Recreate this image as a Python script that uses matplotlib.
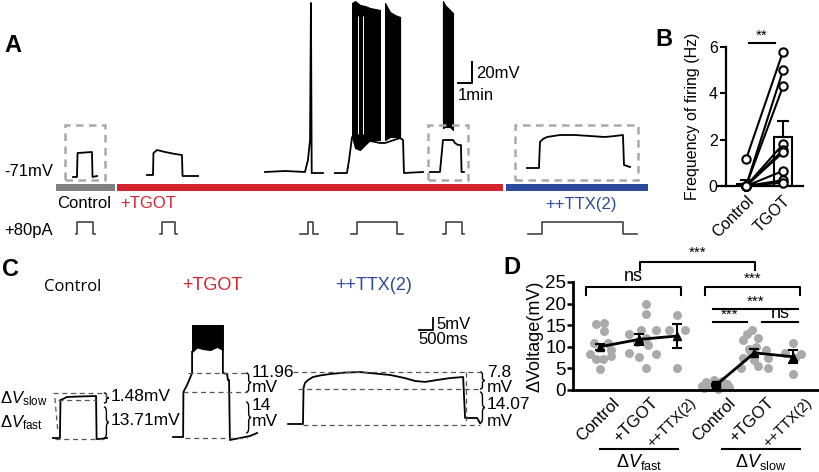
import numpy as np
import matplotlib
matplotlib.use("Agg")
import matplotlib.pyplot as plt
from matplotlib.path import Path
from matplotlib.patches import PathPatch, Rectangle

plt.rcParams['font.family'] = ['Liberation Sans', 'DejaVu Sans']
plt.rcParams['mathtext.fontset'] = 'custom'
plt.rcParams['mathtext.rm'] = 'Liberation Sans'
plt.rcParams['mathtext.it'] = 'Liberation Sans:italic'

RED = '#d2232f'
BLUE = '#2d4b9c'
GRAY = '#808080'
DOT = '#aaaaaa'

# ---------------- A: long recording (t in min, Vm in mV) ----------------
ctrl_t = [1.87, 2.13, 2.17, 2.67, 3.13, 3.17, 3.47]
ctrl_v = [-74.2, -74.2, -55.0, -54.6, -54.2, -74.2, -73.4]
tgot1_t = [6.8, 7.2, 7.23, 7.47, 8.0, 8.67, 9.13, 9.17, 10.2]
tgot1_v = [-72.6, -72.6, -55.0, -52.6, -54.2, -55.8, -56.6, -73.4, -73.4]
spike_t = [14.67, 16.0, 17.33, 17.53, 17.67, 17.73, 17.78, 18.53]
spike_v = [-70.2, -69.4, -70.2, -60.6, -44.6, 65.0, -71.0, -71.0]
burst_t = [19.33, 20.13, 20.27, 20.47, 22.33, 22.67, 23.67, 23.87, 23.93, 25.2]
burst_v = [-71.0, -71.0, -60.6, -42.2, -47.0, -47.0, -43.0, -44.6, -71.0, -70.2]
late_t = [25.67, 26.33, 26.47, 26.53, 27.2, 27.33, 27.53, 27.73, 27.77, 27.93]
late_v = [-70.2, -70.2, -52.6, -44.6, -44.6, -47.0, -48.6, -48.6, -70.2, -70.2]
ttx_t = [32.13, 32.93, 33.0, 33.2, 33.47, 34.33, 35.33, 36.33, 37.33, 38.0, 38.53, 38.6, 39.0]
ttx_v = [-67.0, -67.0, -46.2, -43.8, -42.2, -40.6, -40.6, -41.4, -42.2, -41.4, -40.6, -64.6, -66.2]

# firing envelopes (time, lower, upper)
env1_t = [20.47, 20.67, 21.0, 21.33, 21.67, 22.0, 22.33]
env1_lo = [-42.2, -51.0, -52.6, -48.6, -44.6, -44.6, -44.6]
env1_hi = [65.0, 66.6, 63.4, 62.6, 61.0, 60.2, 59.4]
env2_t = [22.67, 23.0, 23.33, 23.67]
env2_lo = [-44.6, -42.2, -42.2, -42.2]
env2_hi = [65.0, 57.8, 55.4, 53.8]
env3_t = [26.53, 26.67, 27.0, 27.2]
env3_lo = [-35.0, -34.2, -34.2, -36.6]
env3_hi = [66.6, 63.4, 59.4, 57.0]
gap_t = [20.87, 21.2]

# +80 pA current steps: lead-in, on, off, tail end (min)
step_start = [2.05, 7.67, 17.0, 20.4, 26.53, 32.2]
step_on = [2.15, 7.8, 17.53, 20.8, 26.73, 33.13]
step_off = [3.22, 8.67, 17.87, 23.47, 27.8, 38.53]
step_end = [3.33, 8.82, 18.2, 23.87, 27.93, 39.47]
step_amp = 80

# drug application periods (min)
period_start = [0.73, 4.8, 30.73]
period_end = [4.67, 30.53, 40.2]
period_col = [GRAY, RED, BLUE]

# ---------------- B: firing frequency (Hz) ----------------
freq_ctrl = [1.15, 0, 0, 0, 0, 0, 0, 0, 0]
freq_tgot = [5.8, 5.0, 4.3, 1.8, 1.55, 1.45, 0.65, 0.25, 0.15]
freq_mean = [0.08, 2.1]
freq_sem = [0.17, 0.7]

# ---------------- C: single sweeps (t in s, V in mV) ----------------
c_ctrl_t = [1.89, 2.11, 2.14, 2.16, 2.25, 2.39, 2.86, 3.43, 3.45, 3.57, 3.82]
c_ctrl_v = [0.83, 0.83, 0.83, 16.67, 17.08, 17.92, 18.13, 18.33, 0.42, 0.42, 0.83]
c_tgot_pre_t = [6.18, 6.54, 6.55, 6.68, 6.86, 6.86]
c_tgot_pre_v = [1.25, 1.25, 20.0, 22.9, 27.9, 36.7]
c_tgot_post_t = [7.96, 7.96, 8.11, 8.14, 8.18, 8.21, 8.57, 8.93, 9.18]
c_tgot_post_v = [37.5, 27.9, 27.5, 25.0, 25.0, 0.0, 0.83, 1.67, 2.92]
c_env_t = [6.86, 7.04, 7.25, 7.5, 7.75, 7.96]
c_env_lo = [36.7, 38.6, 37.9, 37.5, 38.8, 37.5]
c_env_hi = [47.9, 47.9, 47.9, 47.9, 47.9, 47.9]
c_ttx_t = [10.29, 10.82, 10.84, 10.89, 11.0, 11.18, 11.43, 11.79, 12.32, 12.86, 13.39, 13.93,
           14.46, 14.82, 15.18, 15.61, 16.07, 16.54, 16.61, 17.04, 17.14]
c_ttx_v = [6.67, 6.67, 21.67, 23.75, 25.0, 26.25, 26.88, 27.5, 28.1, 28.3, 27.7, 27.1,
           25.8, 24.6, 24.2, 25.0, 25.8, 26.25, 9.17, 9.17, 7.08]

# ---------------- D: delta voltage (mV) ----------------
groups = ['Control', '+TGOT', '++TTX(2)', 'Control', '+TGOT', '++TTX(2)']
xpos = [0, 1, 2, 3, 4, 5]
fast_ctrl = [15.3, 15.6, 13.7, 10.9, 10.9, 8.3, 9.3, 7.1, 7.1, 7.9, 4.8]
fast_ctrl_dx = [-0.1, 0.11, 0.11, -0.15, 0.2, -0.26, 0.28, -0.1, 0.07, 0.28, 0.0]
fast_tgot = [20.0, 17.6, 13.0, 13.8, 14.0, 12.0, 11.2, 8.5, 7.6, 8.4, 5.0, 10.5]
fast_tgot_dx = [0.2, 0.2, -0.25, 0.05, 0.45, 0.2, -0.05, -0.25, 0.0, 0.45, 0.2, 0.25]
fast_ttx = [17.3, 14.0, 13.8, 5.0]
fast_ttx_dx = [0.0, -0.2, 0.2, 0.0]
slow_ctrl = [1.9, 2.3, 2.1, 1.4, 0.9, 0.6, 0.6, 0.6, 1.2, 0.4, 1.0, 0.3]
slow_ctrl_dx = [-0.25, -0.05, 0.15, 0.3, -0.35, -0.15, 0.15, 0.35, -0.05, -0.3, 0.25, 0.05]
slow_tgot = [13.8, 12.9, 12.0, 11.6, 10.0, 9.5, 9.3, 8.5, 7.3, 6.9, 7.3, 5.0, 5.5, 5.2]
slow_tgot_dx = [-0.05, -0.2, 0.1, -0.3, 0.05, -0.15, 0.3, -0.1, -0.3, 0.0, 0.35, -0.35, 0.1, 0.35]
slow_ttx = [10.8, 8.6, 8.3, 7.5, 3.6]
slow_ttx_dx = [0.0, -0.2, 0.2, 0.05, 0.0]
fast_mean = [10.0, 11.7, 12.5]
fast_sem = [0.75, 1.3, 2.7]
slow_mean = [1.1, 8.6, 7.7]
slow_sem = [0.2, 0.8, 1.5]

W, H = 820, 472
fig = plt.figure(figsize=(W / 100, H / 100), dpi=100)


def px_axes(x0, y0, x1, y1):
    return fig.add_axes([x0 / W, 1 - y1 / H, (x1 - x0) / W, (y1 - y0) / H])


def ftext(x, y, s, **kw):
    fig.text(x / W, 1 - y / H, s, **kw)


def brace(ax, x, y0, y1, w, lw=1.0):
    # curly brace opening to the left, tip pointing right
    m = (y0 + y1) / 2
    r = min(abs(y1 - y0) * 0.15, 2.0)
    verts = [(x, y1), (x + w / 2, y1), (x + w / 2, y1 - r),
             (x + w / 2, m + r), (x + w / 2, m), (x + w, m),
             (x + w / 2, m), (x + w / 2, m - r),
             (x + w / 2, y0 + r), (x + w / 2, y0), (x, y0)]
    codes = [Path.MOVETO, Path.CURVE3, Path.CURVE3, Path.LINETO, Path.CURVE3, Path.CURVE3,
             Path.CURVE3, Path.CURVE3, Path.LINETO, Path.CURVE3, Path.CURVE3]
    ax.add_patch(PathPatch(Path(verts, codes), fill=False, lw=lw, ec='k', clip_on=False))


# ======== A ========
axA = px_axes(0, 0, 660, 245)
axA.set_xlim(-3, 41)
axA.set_ylim(-128.6, 67.4)
axA.axis('off')
for t, v in [(ctrl_t, ctrl_v), (tgot1_t, tgot1_v), (spike_t, spike_v),
             (burst_t, burst_v), (late_t, late_v), (ttx_t, ttx_v)]:
    axA.plot(t, v, color='k', lw=1.3)
for t, lo, hi in [(env1_t, env1_lo, env1_hi), (env2_t, env2_lo, env2_hi), (env3_t, env3_lo, env3_hi)]:
    axA.fill_between(t, lo, hi, color='k', lw=0.8)
axA.vlines(gap_t, -40, 55, color='white', lw=0.7)

for t0, t1 in [(1.33, 4.0), (25.53, 28.2), (31.33, 39.53)]:
    axA.add_patch(Rectangle((t0, -76.6), t1 - t0, 44.0, fill=False, ec='#a9a9a9',
                            lw=1.8, ls=(0, (3, 2.2))))
axA.barh(-82.6, np.subtract(period_end, period_start), left=period_start, height=5.6,
         color=period_col)
axA.plot([27.53, 28.47, 28.47], [1.0, 1.0, 17.8], color='k', lw=1.4)

axI = px_axes(0, 212, 660, 242)
axI.set_xlim(-3, 41)
axI.set_ylim(-52, 143)
axI.axis('off')
for s, a, b, e in zip(step_start, step_on, step_off, step_end):
    axI.plot([s, a, a, b, b, e], [0, 0, step_amp, step_amp, 0, 0], color='#444444', lw=1.2)

ftext(4, 45, 'A', fontsize=17, fontweight='bold', va='center')
ftext(4, 172, '-71mV', fontsize=12, va='center')
ftext(4, 230, '+80pA', fontsize=12, va='center')
ftext(84, 204, 'Control', fontsize=12, va='center', ha='center')
ftext(120, 204, '+TGOT', fontsize=12, va='center', color=RED)
ftext(581, 204, '++TTX(2)', fontsize=12, va='center', ha='center', color=BLUE)
ftext(476, 73, '20mV', fontsize=12, va='center')
ftext(458, 96, '1min', fontsize=12, va='center')

# ======== B ========
axB = px_axes(718, 47, 803, 186)
axB.set_xlim(-0.757, 1.54)
axB.set_ylim(0, 6)
axB.bar([0, 1], freq_mean, width=0.51, color='white', edgecolor='k', lw=1.5,
        yerr=[[0, 0], freq_sem], capsize=4,
        error_kw=dict(elinewidth=1.5, capthick=1.5), zorder=1)
for c, tg in zip(freq_ctrl, freq_tgot):
    axB.plot([0, 1], [c, tg], '-o', color='k', mfc='white', ms=6, mew=1.5, lw=1.5,
             clip_on=False, zorder=3)
for s in ['top', 'right']:
    axB.spines[s].set_visible(False)
axB.spines['left'].set_position(('axes', 0.094))
axB.spines['left'].set_linewidth(1.6)
axB.spines['bottom'].set_linewidth(1.6)
axB.set_yticks([0, 2, 4, 6])
axB.tick_params(axis='y', length=4, width=1.5, labelsize=11.5, pad=2)
axB.set_xticks([0, 1], ['Control', 'TGOT'], rotation=45, ha='right', rotation_mode='anchor')
axB.tick_params(axis='x', length=0, labelsize=11.5, pad=5)
axB.set_ylabel('Frequency of firing (Hz)', fontsize=11.5, labelpad=6)
axB.plot([0.08, 0.78], [6.17, 6.17], color='k', lw=1.5, clip_on=False)
axB.text(0.43, 6.2, '**', ha='center', va='bottom', fontsize=11)
ftext(655, 40, 'B', fontsize=17, fontweight='bold', va='center')

# ======== C ========
axC = px_axes(0, 290, 520, 470)
axC.set_xlim(0, 18.571)
axC.set_ylim(-12.5, 62.5)
axC.axis('off')
for t, v in [(c_ctrl_t, c_ctrl_v), (c_tgot_pre_t, c_tgot_pre_v),
             (c_tgot_post_t, c_tgot_post_v), (c_ttx_t, c_ttx_v)]:
    axC.plot(t, v, color='k', lw=1.3)
axC.fill_between(c_env_t, c_env_lo, c_env_hi, color='k', lw=0.8)
axC.plot([14.96, 15.46, 15.46], [45.83, 45.83, 50.83], color='k', lw=1.3)

dash = dict(color='#555555', lw=0.9, ls=(0, (4, 3)))
for x0, x1, y in [(1.89, 3.79, 19.58), (2.07, 3.46, 16.67), (1.96, 3.82, 0.42),
                  (6.71, 8.82, 27.92), (6.54, 8.82, 20.0), (6.61, 8.82, 0.83),
                  (10.46, 17.14, 28.33), (10.64, 17.14, 21.25), (10.82, 17.14, 6.25)]:
    axC.plot([x0, x1], [y, y], **dash)
axC.plot([1.96, 2.07], [17.5, 2.92], **dash)
axC.plot([3.79, 3.79], [19.58, 16.25], **dash)
axC.plot([16.64, 16.64], [28.33, 6.25], **dash)

brace(axC, 3.71, 15.42, 19.58, 0.18)
brace(axC, 3.71, 0.83, 13.75, 0.18)
brace(axC, 8.79, 20.0, 27.92, 0.18)
brace(axC, 8.79, 2.92, 15.83, 0.18)
brace(axC, 17.14, 21.25, 28.33, 0.18)
brace(axC, 17.14, 7.08, 20.0, 0.18)
for x, y, s in [(3.96, 17.92, '1.48mV'), (3.96, 7.92, '13.71mV'),
                (9.0, 28.3, '11.96'), (9.0, 21.9, 'mV'), (9.0, 14.2, '14'), (9.0, 7.6, 'mV'),
                (17.39, 28.3, '7.8'), (17.39, 21.9, 'mV'), (17.39, 14.6, '14.07'),
                (17.39, 7.9, 'mV')]:
    axC.text(x, y, s, fontsize=12.5, va='center', ha='left', linespacing=0.9)
axC.text(15.57, 48.3, '5mV', fontsize=12, va='center')
axC.text(14.96, 41.7, '500ms', fontsize=12, va='center')

ftext(2, 270, 'C', fontsize=17, fontweight='bold', va='center')
ftext(73, 287, 'Control', fontsize=12, va='center', ha='center', family=['Open Sans', 'DejaVu Sans'])
ftext(212, 286, '+TGOT', fontsize=13, va='center', ha='center', color=RED)
ftext(374, 286, '++TTX(2)', fontsize=13, va='center', ha='center', color=BLUE)
ftext(0, 403, r'Δ$V_{\mathrm{slow}}$', fontsize=12, va='baseline')
ftext(0, 427, r'Δ$V_{\mathrm{fast}}$', fontsize=12, va='baseline')

# ======== D ========
axD = px_axes(573, 282, 820, 390)
axD.set_xlim(-0.70, 5.70)
axD.set_ylim(0, 25)
for s in ['top', 'right']:
    axD.spines[s].set_visible(False)
axD.spines['left'].set_linewidth(2)
axD.spines['bottom'].set_linewidth(2)
axD.set_yticks([0, 5, 10, 15, 20, 25])
axD.tick_params(axis='y', length=4, width=1.8, labelsize=13.5, pad=1)
axD.set_xticks([])
axD.set_ylabel('ΔVoltage(mV)', fontsize=13, labelpad=1)

dots = [(fast_ctrl, fast_ctrl_dx), (fast_tgot, fast_tgot_dx), (fast_ttx, fast_ttx_dx),
        (slow_ctrl, slow_ctrl_dx), (slow_tgot, slow_tgot_dx), (slow_ttx, slow_ttx_dx)]
for x, (vals, dx) in zip(xpos, dots):
    axD.scatter(np.add(x, dx), vals, s=42, color=DOT, lw=0, zorder=2, clip_on=False)

axD.errorbar(xpos[:3], fast_mean, yerr=fast_sem, fmt='-^', color='k', ms=6, lw=2,
             capsize=3.5, capthick=1.5, elinewidth=1.5, zorder=4)
axD.errorbar(xpos[3:], slow_mean, yerr=slow_sem, fmt='-', color='k', lw=2,
             capsize=3.5, capthick=1.5, elinewidth=1.5, zorder=4)
axD.plot(xpos[3], slow_mean[0], 's', color='k', ms=6, zorder=5, clip_on=False)
axD.plot(xpos[4:], slow_mean[1:], '^', color='k', ms=6, zorder=5)

for x, lab in zip(xpos, groups):
    axD.text(x + 0.3, -1.2, lab, rotation=45, ha='right', va='top', rotation_mode='anchor',
             fontsize=10.5 if lab.startswith('++') else 12)


def bracket(x0, x1, y, h):
    axD.plot([x0, x0, x1, x1], [y - h, y, y, y - h], color='k', lw=1.5, clip_on=False)


bracket(-0.36, 2.10, 23.9, 1.9)
bracket(2.72, 5.18, 23.9, 1.9)
bracket(1.04, 4.02, 29.7, 1.9)
axD.text(0.87, 24.4, 'ns', ha='center', va='bottom', fontsize=13)
axD.text(3.95, 24.2, '***', ha='center', va='bottom', fontsize=11)
axD.text(2.53, 30.1, '***', ha='center', va='bottom', fontsize=11)
for x0, x1, y, s in [(2.93, 5.13, 18.75, '***'), (2.93, 3.81, 15.7, '***'), (4.2, 5.13, 15.7, 'ns')]:
    axD.plot([x0, x1], [y, y], color='k', lw=1.5, clip_on=False)
    axD.text((x0 + x1) / 2, y + 0.1, s, ha='center', va='bottom',
             fontsize=11 if s == '***' else 13)
for x0, x1, s in [(0, 2.02, r'Δ$V_{\mathrm{fast}}$'), (3.16, 5.18, r'Δ$V_{\mathrm{slow}}$')]:
    axD.plot([x0, x1], [-13.7, -13.7], color='k', lw=1.5, clip_on=False)
    axD.text((x0 + x1) / 2, -14.4, s, ha='center', va='top', fontsize=13)

ftext(503, 267, 'D', fontsize=17, fontweight='bold', va='center')

fig.savefig('out.png', dpi=100)
